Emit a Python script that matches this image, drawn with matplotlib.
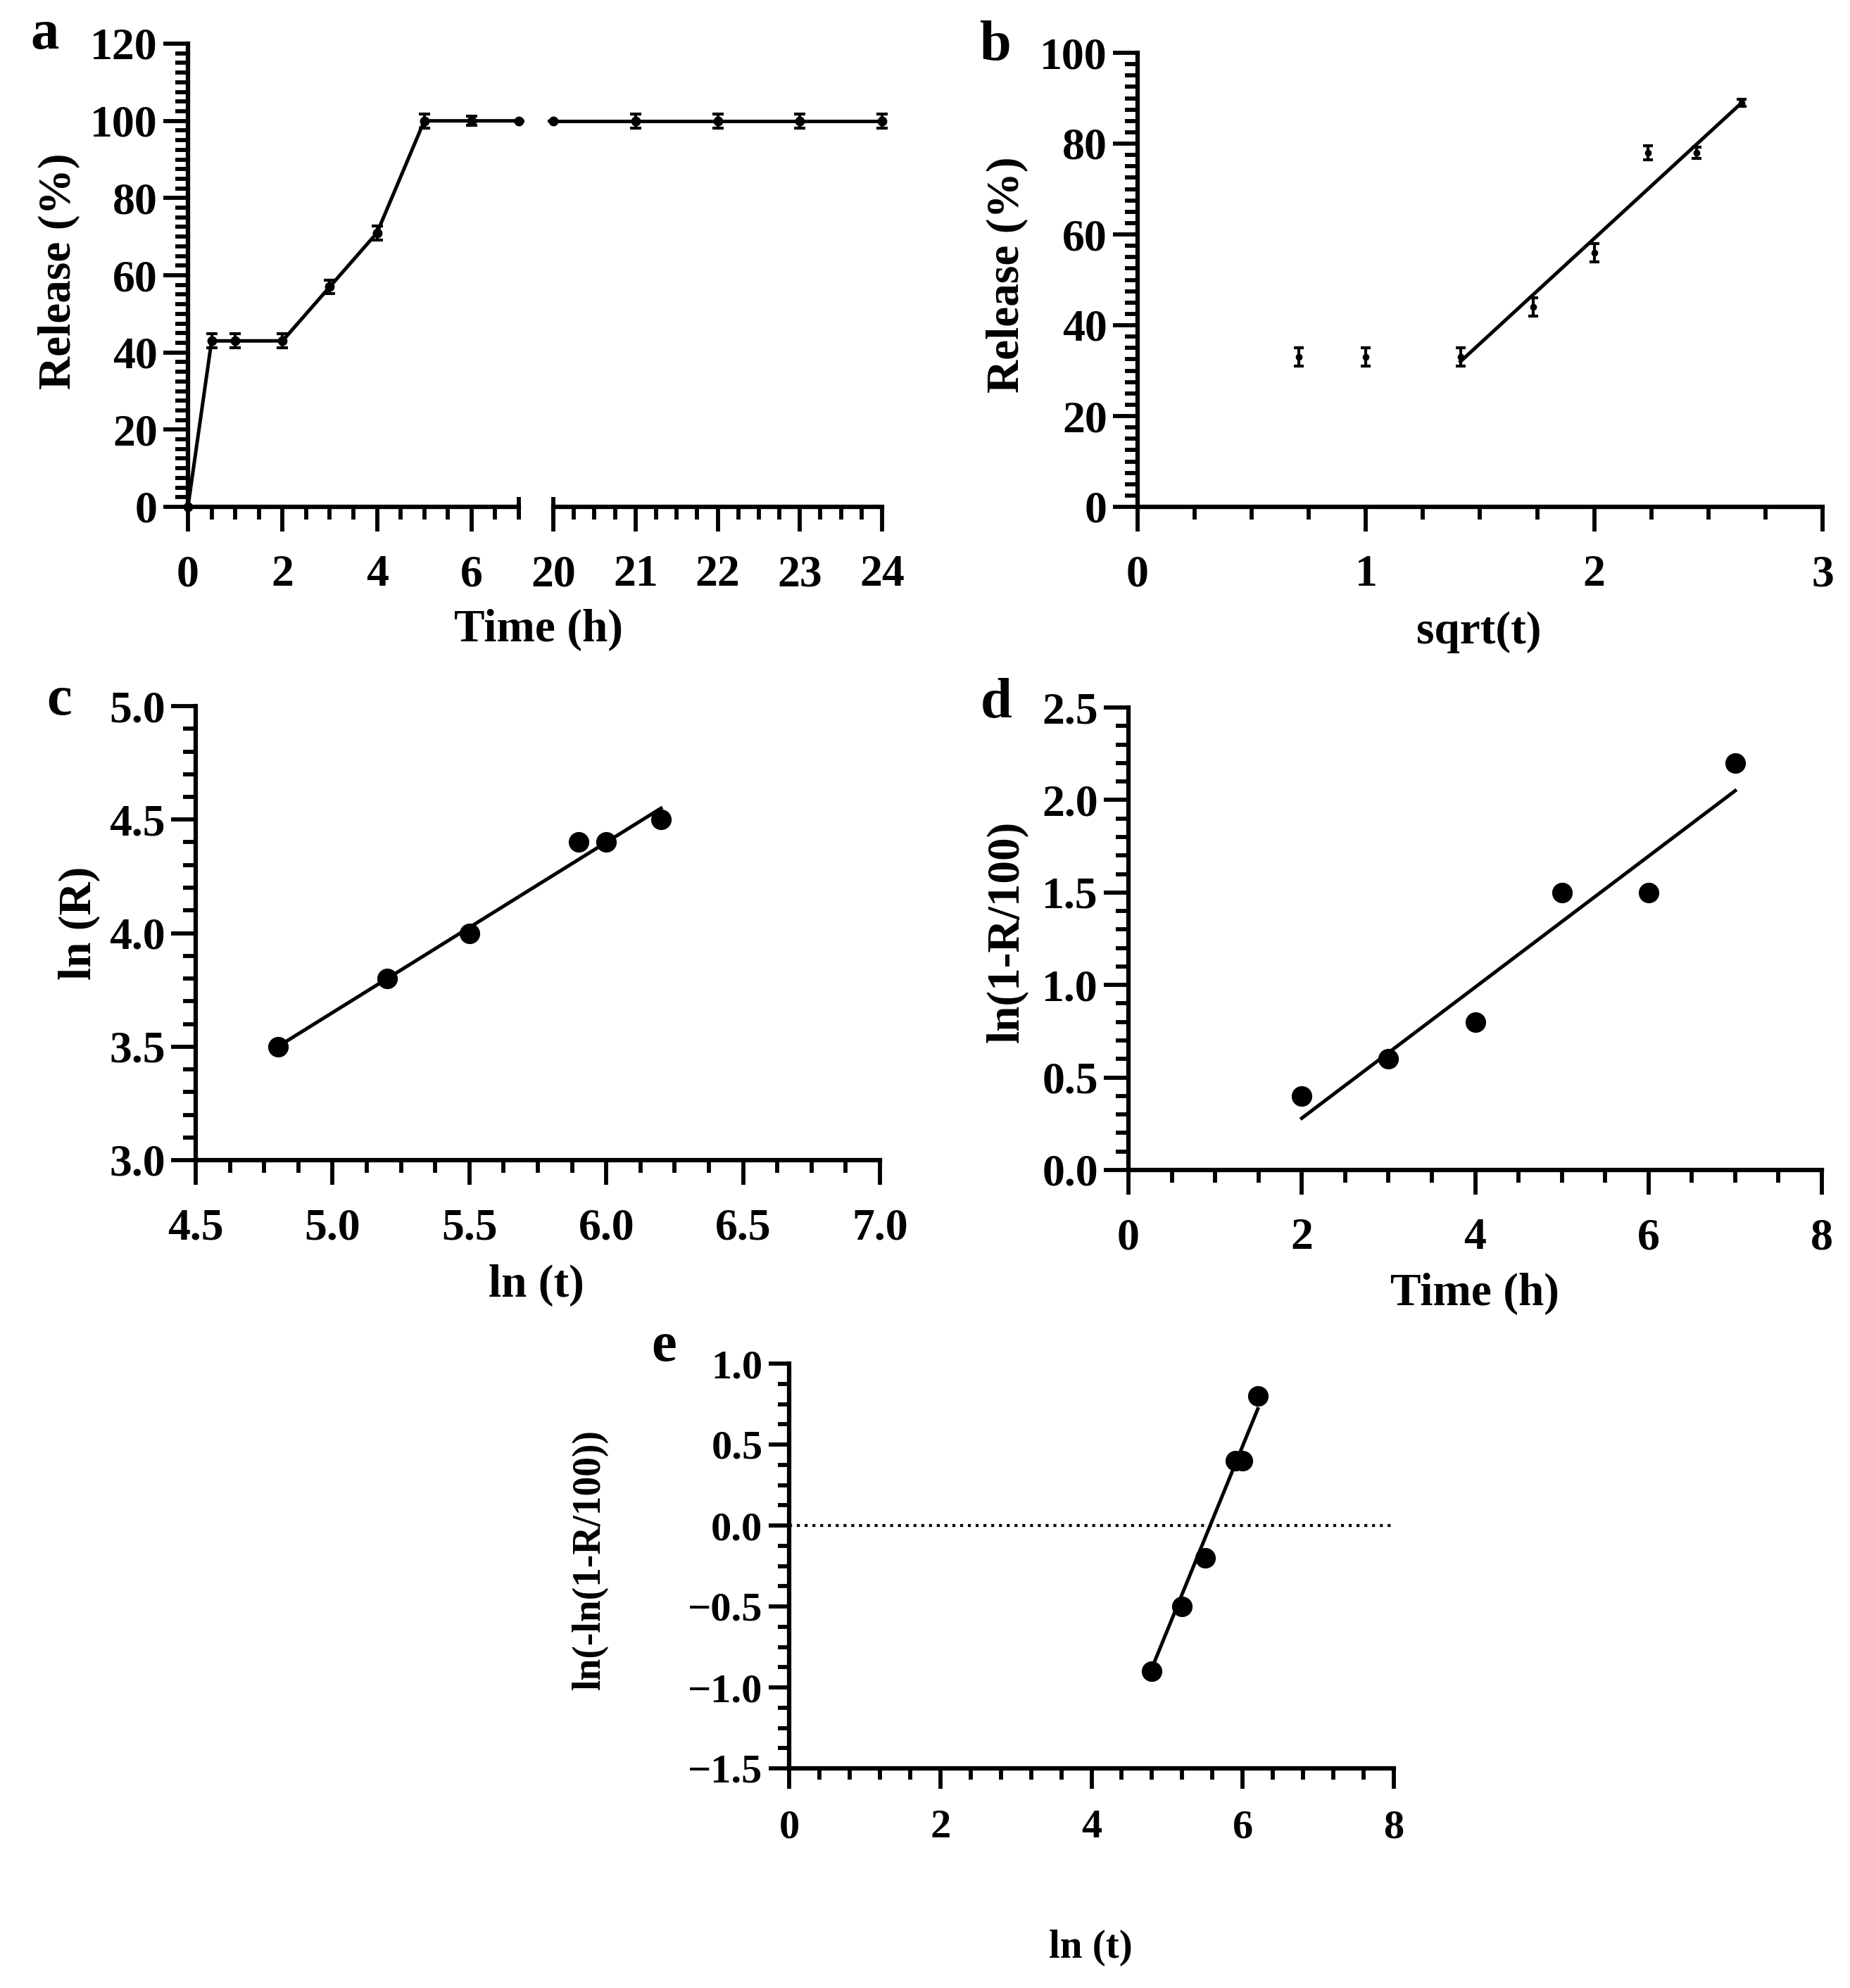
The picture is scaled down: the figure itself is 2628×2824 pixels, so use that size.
import numpy as np
import matplotlib
matplotlib.use('Agg')
import matplotlib.pyplot as plt
from matplotlib.ticker import MultipleLocator

# panel a - cumulative release over time (broken x axis)
time_a = [0, 0.5, 1, 2, 3, 4, 5, 6, 7, 20, 21, 22, 23, 24]
release_a = [0, 43, 43, 43, 57, 71, 100, 100, 100, 100, 100, 100, 100, 100]
err_a = [0, 1.8, 1.8, 1.8, 1.8, 1.8, 1.8, 1.2, 0, 0, 1.8, 1.8, 1.8, 1.8]

# panel b - Higuchi
sqrt_t = [0.707, 1.0, 1.414, 1.732, 2.0, 2.236, 2.449, 2.646]
release_b = [33, 33, 33, 44, 56, 78, 78, 89]
err_b = [2, 2, 2, 2, 2, 1.5, 1.2, 0.8]
fit_b_x = [1.414, 2.646]
fit_b_y = [32, 89]

# panel c - Korsmeyer-Peppas
ln_t = [4.8, 5.2, 5.5, 5.9, 6.0, 6.2]
ln_r = [3.5, 3.8, 4.0, 4.4, 4.4, 4.5]
fit_c_x = [4.8, 6.2]
fit_c_y = [3.5, 4.55]

# panel d - first order
time_d = [2, 3, 4, 5, 6, 7]
ln_rem = [0.4, 0.6, 0.8, 1.5, 1.5, 2.2]
fit_d_x = [2, 7]
fit_d_y = [0.28, 2.05]

# panel e - Weibull
weib = [-0.9, -0.5, -0.2, 0.4, 0.4, 0.8]
fit_e_x = [4.8, 6.2]
fit_e_y = [-0.88, 0.72]

plt.rcParams['font.family'] = ['Liberation Serif', 'DejaVu Serif']
plt.rcParams['font.weight'] = 'bold'

W, H = 2628, 2824
fig = plt.figure(figsize=(W / 100, H / 100), dpi=100)
LW = 3.6    # data lines
SW = 4.5    # spines
TW = 4.2    # ticks


def box(x0, y0, x1, y1):
    # pixel box (top-left origin) -> figure fraction
    return [x0 / W, 1 - y1 / H, (x1 - x0) / W, (y1 - y0) / H]


def style(ax, fs=46, maj=25, mnr=13, xpad=24):
    ax.spines['top'].set_visible(False)
    ax.spines['right'].set_visible(False)
    ax.spines['left'].set_linewidth(SW)
    ax.spines['bottom'].set_linewidth(SW)
    ax.tick_params(which='major', length=maj, width=TW, labelsize=fs)
    ax.tick_params(which='minor', length=mnr, width=TW)
    ax.tick_params(axis='x', which='major', pad=xpad)
    ax.tick_params(axis='y', which='major', pad=6)


def ftext(x, y, s, size=47, rot=0, **kw):
    fig.text(x / W, 1 - y / H, s, fontsize=size, rotation=rot,
             ha='center', va='center', fontweight='bold', **kw)


# ---- a ----
t = np.array(time_a)
r = np.array(release_a)
e = np.array(err_a)
a1 = fig.add_axes(box(267, 62, 737, 720))
a2 = fig.add_axes(box(786, 62, 1253, 720))
m1 = t <= 7
m2 = t >= 20
a1.errorbar(t[m1], r[m1], yerr=e[m1], fmt='-o', color='k', lw=LW, ms=9,
            capsize=6, capthick=3, elinewidth=3, clip_on=False, zorder=5)
a2.errorbar(t[m2], r[m2], yerr=e[m2], fmt='-o', color='k', lw=LW, ms=9,
            capsize=6, capthick=3, elinewidth=3, clip_on=False, zorder=5)
for ax in (a1, a2):
    style(ax)
    ax.set_ylim(0, 120)
a1.set_xlim(0, 7)
a1.xaxis.set_major_locator(MultipleLocator(2))
a1.xaxis.set_minor_locator(MultipleLocator(0.5))
a1.yaxis.set_major_locator(MultipleLocator(20))
a1.yaxis.set_minor_locator(MultipleLocator(2.5))
a2.set_xlim(20, 24)
a2.xaxis.set_major_locator(MultipleLocator(1))
a2.xaxis.set_minor_locator(MultipleLocator(0.25))
a2.spines['left'].set_visible(False)
a2.tick_params(axis='y', which='both', left=False, labelleft=False)
# break markers
a1.plot([7, 7], [-0.028, 0.022], transform=a1.get_xaxis_transform(),
        color='k', lw=TW, clip_on=False, solid_capstyle='butt')
a2.plot([20, 20], [-0.028, 0.022], transform=a2.get_xaxis_transform(),
        color='k', lw=TW, clip_on=False, solid_capstyle='butt')
ftext(84, 385, 'Release (%)', rot=90)
ftext(765, 895, 'Time (h)')
ftext(63, 50, 'a', size=58)

# ---- b ----
b = fig.add_axes(box(1616, 75, 2589, 720))
b.errorbar(sqrt_t, release_b, yerr=err_b, fmt='o', color='k', ms=6,
           capsize=5, capthick=3, elinewidth=3, zorder=5)
b.plot(fit_b_x, fit_b_y, color='k', lw=LW)
style(b)
b.set_xlim(0, 3)
b.set_ylim(0, 100)
b.xaxis.set_major_locator(MultipleLocator(1))
b.xaxis.set_minor_locator(MultipleLocator(0.25))
b.yaxis.set_major_locator(MultipleLocator(20))
b.yaxis.set_minor_locator(MultipleLocator(2.5))
ftext(1431, 390, 'Release (%)', rot=90)
ftext(2101, 898, 'sqrt(t)')
ftext(1414, 65, 'b', size=58)

# ---- c ----
c = fig.add_axes(box(278, 1003, 1250, 1648))
c.plot(ln_t, ln_r, 'o', color='k', ms=20, zorder=5)
c.plot(fit_c_x, fit_c_y, color='k', lw=LW)
style(c)
c.set_xlim(4.5, 7.0)
c.set_ylim(3.0, 5.0)
c.xaxis.set_major_locator(MultipleLocator(0.5))
c.xaxis.set_minor_locator(MultipleLocator(0.125))
c.yaxis.set_major_locator(MultipleLocator(0.5))
c.yaxis.set_minor_locator(MultipleLocator(0.1))
c.xaxis.set_major_formatter('{x:.1f}')
c.yaxis.set_major_formatter('{x:.1f}')
ftext(113, 1311, 'ln (R)', rot=90)
ftext(762, 1826, 'ln (t)')
ftext(84, 995, 'c', size=58)

# ---- d ----
d = fig.add_axes(box(1603, 1005, 2588, 1662))
d.plot(time_d, ln_rem, 'o', color='k', ms=20, zorder=5)
d.plot(fit_d_x, fit_d_y, color='k', lw=LW)
style(d)
d.set_xlim(0, 8)
d.set_ylim(0, 2.5)
d.xaxis.set_major_locator(MultipleLocator(2))
d.xaxis.set_minor_locator(MultipleLocator(0.5))
d.yaxis.set_major_locator(MultipleLocator(0.5))
d.yaxis.set_minor_locator(MultipleLocator(0.1))
d.yaxis.set_major_formatter('{x:.1f}')
ftext(1431, 1323, 'ln(1-R/100)', rot=90)
ftext(2095, 1838, 'Time (h)')
ftext(1415, 1000, 'd', size=58)

# ---- e ----
ea = fig.add_axes(box(1121, 1937, 1980, 2512))
ea.plot(ln_t, weib, 'o', color='k', ms=20, zorder=5)
ea.plot(fit_e_x, fit_e_y, color='k', lw=LW)
ea.axhline(0, ls=':', lw=3, color='k')
style(ea, fs=42, maj=21, mnr=11.5, xpad=21)
ea.set_xlim(0, 8)
ea.set_ylim(-1.5, 1.0)
ea.xaxis.set_major_locator(MultipleLocator(2))
ea.xaxis.set_minor_locator(MultipleLocator(0.4))
ea.yaxis.set_major_locator(MultipleLocator(0.5))
ea.yaxis.set_minor_locator(MultipleLocator(0.125))
ea.yaxis.set_major_formatter('{x:.1f}')
ftext(838, 2215, 'ln(-ln(1-R/100))', size=40, rot=90)
ftext(1549, 2767, 'ln (t)', size=41)
ftext(943, 1913, 'e', size=58)

fig.savefig('out.png', dpi=100, facecolor='white')
